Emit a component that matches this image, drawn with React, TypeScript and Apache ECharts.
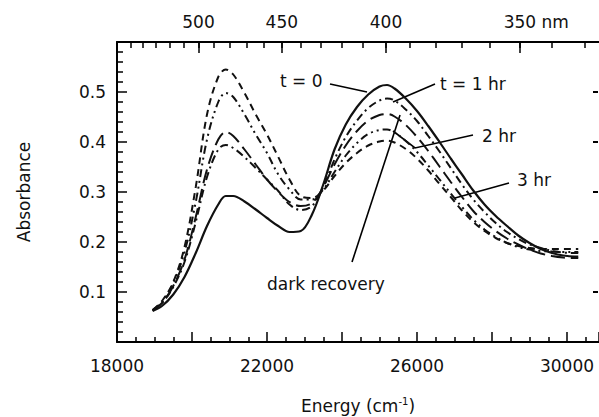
import React, { useEffect, useRef } from "react";
import * as echarts from "echarts";

// ---- data ----
const energy = [18950, 19200, 19500, 19800, 20100, 20400, 20700, 20900, 21100, 21400, 21700, 22000, 22300, 22600, 22900, 23200, 23500, 23800, 24100, 24400, 24700, 25000, 25200, 25400, 25700, 26000, 26300, 26600, 26900, 27200, 27500, 27800, 28100, 28400, 28700, 29000, 29300, 29600, 29900, 30200, 30300];

const absT0 = [0.062, 0.072, 0.095, 0.13, 0.178, 0.232, 0.275, 0.292, 0.292, 0.281, 0.265, 0.248, 0.232, 0.22, 0.222, 0.255, 0.315, 0.385, 0.435, 0.47, 0.495, 0.511, 0.514, 0.507, 0.487, 0.462, 0.432, 0.4, 0.367, 0.335, 0.303, 0.275, 0.252, 0.232, 0.213, 0.198, 0.186, 0.178, 0.173, 0.171, 0.171];
const absT1 = [0.063, 0.078, 0.11, 0.16, 0.24, 0.33, 0.385, 0.394, 0.388, 0.37, 0.348, 0.325, 0.302, 0.275, 0.264, 0.272, 0.31, 0.365, 0.41, 0.443, 0.468, 0.483, 0.487, 0.483, 0.465, 0.442, 0.412, 0.381, 0.348, 0.315, 0.285, 0.26, 0.238, 0.22, 0.206, 0.195, 0.188, 0.182, 0.179, 0.178, 0.178];
const absDark = [0.063, 0.078, 0.112, 0.165, 0.25, 0.345, 0.405, 0.42, 0.412, 0.385, 0.355, 0.325, 0.3, 0.28, 0.272, 0.278, 0.31, 0.355, 0.393, 0.422, 0.443, 0.454, 0.456, 0.451, 0.434, 0.41, 0.382, 0.351, 0.32, 0.29, 0.262, 0.24, 0.222, 0.207, 0.195, 0.185, 0.177, 0.172, 0.169, 0.168, 0.168];
const absT2 = [0.064, 0.08, 0.118, 0.18, 0.28, 0.405, 0.48, 0.498, 0.49, 0.455, 0.415, 0.378, 0.335, 0.305, 0.285, 0.285, 0.305, 0.34, 0.373, 0.398, 0.416, 0.424, 0.425, 0.419, 0.402, 0.38, 0.353, 0.325, 0.297, 0.27, 0.245, 0.225, 0.21, 0.198, 0.19, 0.185, 0.182, 0.181, 0.18, 0.18, 0.18];
const absT3 = [0.064, 0.082, 0.12, 0.19, 0.31, 0.455, 0.53, 0.545, 0.535, 0.498, 0.455, 0.415, 0.37, 0.325, 0.292, 0.288, 0.303, 0.332, 0.358, 0.378, 0.393, 0.401, 0.403, 0.399, 0.386, 0.367, 0.343, 0.316, 0.29, 0.263, 0.24, 0.222, 0.208, 0.198, 0.192, 0.188, 0.186, 0.186, 0.186, 0.186, 0.186];

// tick labels
const xLabelValues = [18000, 22000, 26000, 30000];
const yLabelValues = [0.1, 0.2, 0.3, 0.4, 0.5];
const topMajorNm = [500, 450, 400, 350];
const topMinorNm = [550, 540, 530, 520, 510, 500, 490, 480, 470, 460, 450, 440, 430, 420, 410, 400, 390, 380, 370, 360, 350, 340, 330];

// annotations (data coordinates)
const annoTexts = ["t = 0", "t = 1 hr", "2 hr", "3 hr", "dark recovery"];
const annoTextPos = [[22347, 0.522], [26613, 0.516], [27733, 0.412], [28667, 0.324], [22000, 0.116]];
const annoLines = [
  [23680, 0.516, 24667, 0.5, 24667, 0.5],
  [26480, 0.516, 25360, 0.48, 25360, 0.48],
  [27493, 0.414, 25947, 0.388, 25360, 0.422],
  [28453, 0.318, 27013, 0.288, 27013, 0.288],
  [24267, 0.16, 25547, 0.454, 25547, 0.454],
];

const X_MIN = 18000;
const X_MAX = 30853;
const TOP_SHIFT = 173; // the wavelength scale of the original figure sits slightly right
const FONT = "DejaVu Sans";
const FS = 17;

// tick positions
const steps = (a: number, b: number, d: number) => {
  const out: number[] = [];
  for (let v = a; v <= b + 1e-9; v += d) out.push(Math.round(v * 1000) / 1000);
  return out;
};
const yRightTicks = steps(0.1, 0.5, 0.1);

function App() {
  const ref = useRef<HTMLDivElement>(null);
  useEffect(() => {
    if (!ref.current) return;
    const chart = echarts.init(ref.current, null, { renderer: "svg" });
    const mk = (arr: number[]) => energy.map((e, i) => [e, arr[i]]);
    const lineSeries = (name: string, arr: number[], type: any, width = 2) => ({
      name,
      type: "line",
      data: mk(arr),
      smooth: 0.35,
      showSymbol: false,
      lineStyle: { color: "#111", width, type },
      xAxisIndex: 0,
      yAxisIndex: 0,
    });
    const tickStyle = { color: "#000", width: 1.5 };
    chart.setOption({
      animation: false,
      grid: { left: 117, top: 42, width: 482, height: 300 },
      xAxis: [
        {
          type: "value",
          min: X_MIN,
          max: X_MAX,
          interval: 2000,
          axisLine: { show: true, lineStyle: { color: "#000", width: 2 } },
          axisTick: { show: true, inside: true, length: 10, lineStyle: tickStyle },
          minorTick: { show: true, splitNumber: 4, length: 5, lineStyle: tickStyle },
          splitLine: { show: false },
          axisLabel: {
            margin: 15,
            fontSize: FS,
            color: "#111",
            fontFamily: FONT,
            showMaxLabel: false,
            formatter: (v: number) => (xLabelValues.includes(v) ? String(v) : ""),
          },
        },
        {
          type: "value",
          position: "top",
          min: X_MIN - TOP_SHIFT,
          max: X_MAX - TOP_SHIFT,
          splitLine: { show: false },
          axisLine: { show: true, lineStyle: { color: "#000", width: 2 } },
          axisTick: {
            show: true,
            inside: true,
            length: 11,
            customValues: topMajorNm.map((n) => 1e7 / n),
            lineStyle: tickStyle,
          },
          axisLabel: {
            show: true,
            margin: 12,
            fontSize: FS,
            color: "#111",
            fontFamily: FONT,
            customValues: topMajorNm.map((n) => 1e7 / n),
            formatter: (v: number) => {
              const nm = Math.round(1e7 / v);
              return nm === 350 ? "{h| nm}" + nm + " nm" : String(nm);
            },
            rich: { h: { color: "rgba(0,0,0,0)", fontSize: FS, fontFamily: FONT } },
          },
        },
        {
          type: "value",
          position: "top",
          min: X_MIN - TOP_SHIFT,
          max: X_MAX - TOP_SHIFT,
          splitLine: { show: false },
          axisLine: { show: false },
          axisTick: {
            show: true,
            inside: true,
            length: 6,
            customValues: topMinorNm.map((n) => 1e7 / n),
            lineStyle: tickStyle,
          },
          axisLabel: { show: false },
        },
      ],
      yAxis: [
        {
          type: "value",
          min: 0,
          max: 0.6,
          interval: 0.1,
          axisLine: { show: true, lineStyle: { color: "#000", width: 2 } },
          axisTick: { show: true, inside: true, length: 10, lineStyle: tickStyle },
          minorTick: { show: true, splitNumber: 5, length: 6, lineStyle: tickStyle },
          splitLine: { show: false },
          axisLabel: {
            margin: 11,
            fontSize: FS,
            color: "#111",
            fontFamily: FONT,
            formatter: (v: number) => {
              const r = Math.round(v * 10) / 10;
              return yLabelValues.includes(r) ? r.toFixed(1) : "";
            },
          },
        },
      ],
      series: [
        lineSeries("t = 0", absT0, "solid", 2.2),
        lineSeries("t = 1 hr", absT1, [8, 4, 2, 4]),
        lineSeries("dark recovery", absDark, [14, 6]),
        lineSeries("2 hr", absT2, [8, 4, 2, 4, 2, 4]),
        lineSeries("3 hr", absT3, [7, 5]),
        {
          type: "custom",
          name: "leaders",
          xAxisIndex: 0,
          yAxisIndex: 0,
          clip: false,
          data: annoLines,
          renderItem: (_p: any, api: any) => {
            const pts = [0, 1, 2].map((k) => api.coord([api.value(2 * k), api.value(2 * k + 1)]));
            return {
              type: "polyline",
              shape: { points: pts },
              style: { stroke: "#000", lineWidth: 1.6, fill: null },
            };
          },
        },
        {
          type: "custom",
          name: "right ticks",
          xAxisIndex: 0,
          yAxisIndex: 0,
          clip: false,
          data: yRightTicks.map((v) => [X_MAX, v]),
          renderItem: (_p: any, api: any) => {
            const p = api.coord([api.value(0), api.value(1)]);
            return {
              type: "polyline",
              shape: { points: [[p[0] - 6, p[1]], [p[0] - 1, p[1]]] },
              style: { stroke: "#000", lineWidth: 2, fill: null },
            };
          },
        },
        {
          type: "custom",
          name: "labels",
          xAxisIndex: 0,
          yAxisIndex: 0,
          clip: false,
          data: annoTextPos.map((p, i) => [p[0], p[1], i]),
          renderItem: (_p: any, api: any) => {
            const c = api.coord([api.value(0), api.value(1)]);
            return {
              type: "text",
              x: c[0],
              y: c[1],
              style: {
                text: annoTexts[api.value(2)],
                fontSize: FS,
                fontFamily: FONT,
                fill: "#111",
                align: "left",
                verticalAlign: "middle",
              },
            };
          },
        },
      ],
      graphic: {
        elements: [
          {
            type: "text",
            x: 358,
            y: 396,
            style: {
              text: "{a|Energy (cm}{s|-1}{a|)}",
              align: "center",
              verticalAlign: "top",
              rich: {
                a: { fontSize: FS, fontFamily: FONT, fill: "#111" },
                s: { fontSize: 10, fontFamily: FONT, fill: "#111", padding: [0, 0, 9, 0] },
              },
            },
          },
          {
            type: "text",
            x: 24,
            y: 192,
            rotation: Math.PI / 2,
            style: {
              text: "Absorbance",
              fontSize: FS,
              fontFamily: FONT,
              fill: "#111",
              align: "center",
              verticalAlign: "middle",
            },
          },
        ],
      },
    });
    return () => chart.dispose();
  }, []);
  return <div ref={ref} style={{ width: 599, height: 417, position: "absolute", left: 0, top: 0 }} />;
}

export default App;
